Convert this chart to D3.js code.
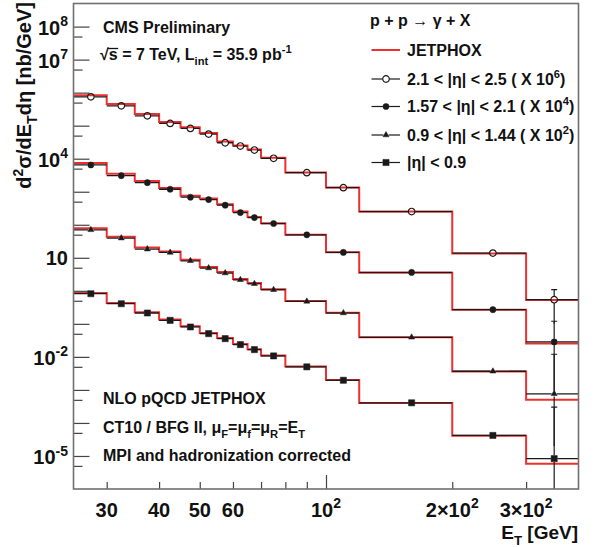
<!DOCTYPE html>
<html><head><meta charset="utf-8">
<script src="https://cdn.jsdelivr.net/npm/d3@7"></script>
<style>
body{margin:0;background:#fff}
svg{display:block;font-family:"Liberation Sans",Arial,Helvetica,sans-serif;font-weight:bold}
</style>
</head><body>
<svg id="c" width="596" height="547"></svg>
<script>
// ---------------- data ----------------
const binEdges   = [25,30,35,40,45,50,55,60,65,70,80,100,120,200,300,400];
const binCenters = [27.5,32.5,37.5,42.5,47.5,52.5,57.5,62.5,67.5,75,90,110,160,250,350];

// 2.1<|eta|<2.5 (x1e6)
const data1   = [7.46e5,3.99e5,1.99e5,1.17e5,8.28e4,5.57e4,3.04e4,2.42e4,1.83e4,1.03e4,3.78e3,1.33e3,251,13.9,0.538];
const theory1 = [8.4e5,4.5e5,2.25e5,1.3e5,9.0e4,6.0e4,3.3e4,2.5e4,1.9e4,1.06e4,3.85e3,1.34e3,250,13.6,0.53];
// 1.57<|eta|<2.1 (x1e4)
const data2   = [6.46e3,3.06e3,1.88e3,1.19e3,682,577,391,234,165,109,49.5,14.5,3.6,0.269,0.0284];
const theory2 = [7.4e3,3.5e3,2.1e3,1.3e3,750,625,420,250,172,112,50,14.7,3.55,0.265,0.0255];
// 0.9<|eta|<1.44 (x1e2)
const data3   = [70.2,39.4,18.3,14.5,8.11,4.89,3.45,2.16,1.64,1.08,0.479,0.213,0.0391,3.67e-3,7.62e-4];
const theory3 = [78,43,20.5,15.5,8.8,5.3,3.7,2.3,1.72,1.12,0.49,0.215,0.039,3.6e-3,5.0e-4];
// |eta|<0.9
const data4   = [0.817,0.407,0.213,0.128,0.0805,0.0506,0.0357,0.0236,0.0166,0.0107,4.99e-3,1.96e-3,4.07e-4,4.19e-5,8.28e-6];
const theory4 = [0.86,0.43,0.225,0.135,0.084,0.053,0.037,0.0245,0.017,0.011,5.1e-3,1.98e-3,4.05e-4,4.1e-5,5.8e-6];

// relative stat errors for bins 1..14, and absolute bounds for the last bin
const errRel  = [0.15,0.08,0.07,0.06,0.06,0.06,0.06,0.06,0.06,0.06,0.07,0.08,0.1,0.15];
const lastLo  = [0.1, 1.0e-3, 2e-5, 1e-8];
const lastHi  = [1.08, 0.12, 0.012, 3e-4];

const seriesLabels = ["2.1 < |η| < 2.5 ( X 10","1.57 < |η| < 2.1 ( X 10","0.9 < |η| < 1.44 ( X 10","|η| < 0.9"];
const seriesExps   = ["6","4","2",null];
const markerTypes  = ["openCircle","circle","triangle","square"];

const yMajorTicks = [1e-5,1e-4,1e-3,1e-2,1e-1,1,10,1e2,1e3,1e4,1e5,1e6,1e7,1e8];
const yMinorTicks = [5e-6,5e-5,5e-4,5e-3,5e-2,0.5,5,50,500,5e3,5e4,5e5,5e6,5e7];
const yLabelVals  = [1e8,1e7,1e4,10,1e-2,1e-5];
const yLabelExps  = ["8","7","4",null,"-2","-5"];
const xMinorTicks = [30,40,50,60,70,80,90,200,300];
const xMajorTicks = [100];
const xLabelVals  = [30,40,50,60,100,200,300];
const xLabelTexts = [["30",null],["40",null],["50",null],["60",null],["10","2"],["2×10","2"],["3×10","2"]];

// ---------------- layout ----------------
const L=73.5, R=578.5, T=3.5, B=489;
const svg = d3.select("#c");
const x = d3.scaleLog().domain([25,400]).range([L,R]);
const y = d3.scaleLog().domain([1e-6,5e8]).range([B,T]);
const RED="#ee2f2f", BLK="#1a1a1a";

svg.append("defs").append("clipPath").attr("id","clip")
  .append("rect").attr("x",L).attr("y",T).attr("width",R-L).attr("height",B-T);

// rich text helper
function rich(sel, parts, base){
  let shift=0;
  parts.forEach(([t,k])=>{
    if(t===null) return;
    const target = k==="sup" ? -base*0.42 : k==="sub" ? base*0.32 : 0;
    sel.append("tspan").attr("dy", target-shift)
      .attr("font-size", k==="n"?base:base*0.7).text(t);
    shift=target;
  });
  return sel;
}

// ---------------- axes ----------------
const gAx = svg.append("g");
gAx.append("g").attr("transform",`translate(${L},0)`)
  .call(d3.axisRight(y).tickValues(yMajorTicks).tickSize(16).tickFormat(""))
  .call(g=>{g.select(".domain").remove(); g.selectAll("line").attr("stroke","#444").attr("stroke-width",1.2);});
gAx.append("g").attr("transform",`translate(${L},0)`)
  .call(d3.axisRight(y).tickValues(yMinorTicks).tickSize(9).tickFormat(""))
  .call(g=>{g.select(".domain").remove(); g.selectAll("line").attr("stroke","#444").attr("stroke-width",1.2);});
gAx.append("g").attr("transform",`translate(0,${B})`)
  .call(d3.axisTop(x).tickValues(xMinorTicks).tickSize(7).tickFormat(""))
  .call(g=>{g.select(".domain").remove(); g.selectAll("line").attr("stroke","#444").attr("stroke-width",1.2);});
gAx.append("g").attr("transform",`translate(0,${B})`)
  .call(d3.axisTop(x).tickValues(xMajorTicks).tickSize(14).tickFormat(""))
  .call(g=>{g.select(".domain").remove(); g.selectAll("line").attr("stroke","#444").attr("stroke-width",1.2);});

// y labels
yLabelVals.forEach((v,i)=>{
  const t = svg.append("text").attr("x",68).attr("y",y(v)+(yLabelExps[i]?8:7))
    .attr("text-anchor","end").attr("fill","#111");
  rich(t,[["10","n"],[yLabelExps[i],"sup"]],20);
});
// x labels
xLabelVals.forEach((v,i)=>{
  const t = svg.append("text").attr("x",x(v)).attr("y",516.5)
    .attr("text-anchor","middle").attr("fill","#111");
  rich(t,[[xLabelTexts[i][0],"n"],[xLabelTexts[i][1],"sup"]],20);
});
// axis titles
rich(svg.append("text").attr("x",578).attr("y",538.5).attr("text-anchor","end").attr("fill","#111"),
  [["E","n"],["T","sub"],[" [GeV]","n"]],19);
rich(svg.append("text").attr("transform","translate(31,2) rotate(-90)").attr("text-anchor","end").attr("fill","#111"),
  [["d","n"],["2","sup"],["σ/dE","n"],["T","sub"],["dη [nb/GeV]","n"]],20);

// ---------------- plot ----------------
const plot = svg.append("g").attr("clip-path","url(#clip)");
const allData=[data1,data2,data3,data4], allTheory=[theory1,theory2,theory3,theory4];
const stepLine = d3.line().x(d=>x(d[0])).y(d=>y(d[1])).curve(d3.curveStepAfter);

function markerPath(type){
  if(type==="square") return d3.symbol(d3.symbolSquare,38)();
  if(type==="triangle") return d3.symbol(d3.symbolTriangle,16)();
  if(type==="circle") return d3.symbol(d3.symbolCircle,30)();
  return d3.symbol(d3.symbolCircle,34)();
}
const markerR = {openCircle:3.4,circle:3.1,triangle:2.6,square:3.2};

allTheory.forEach(th=>{
  const pts = th.map((v,i)=>[binEdges[i],v]);
  pts.push([binEdges[binEdges.length-1], th[th.length-1]]);
  plot.append("path").attr("d",stepLine(pts)).attr("fill","none")
    .attr("stroke",RED).attr("stroke-width",2);
});

allData.forEach((ds,si)=>{
  const g = plot.append("g");
  const type = markerTypes[si], r = markerR[type];
  ds.forEach((v,i)=>{
    const cx=x(binCenters[i]), cy=y(v);
    g.append("line").attr("x1",x(binEdges[i])).attr("x2",cx-r).attr("y1",cy).attr("y2",cy)
      .attr("stroke",BLK).attr("stroke-width",1.3);
    g.append("line").attr("x1",cx+r).attr("x2",x(binEdges[i+1])).attr("y1",cy).attr("y2",cy)
      .attr("stroke",BLK).attr("stroke-width",1.3);
    let lo, hi;
    if(i<errRel.length){ lo=v*(1-errRel[i]); hi=v*(1+errRel[i]); }
    else { lo=lastLo[si]; hi=lastHi[si]; }
    if(y(hi)<cy-r) g.append("line").attr("x1",cx).attr("x2",cx).attr("y1",y(hi)).attr("y2",cy-r)
      .attr("stroke",BLK).attr("stroke-width",1.2);
    if(y(lo)>cy+r) g.append("line").attr("x1",cx).attr("x2",cx).attr("y1",cy+r).attr("y2",y(lo))
      .attr("stroke",BLK).attr("stroke-width",1.2);
    if(i===ds.length-1){
      g.append("line").attr("x1",cx-3).attr("x2",cx+3).attr("y1",y(hi)).attr("y2",y(hi))
        .attr("stroke",BLK).attr("stroke-width",1.2);
    }
    g.append("path").attr("d",markerPath(type)).attr("transform",`translate(${cx},${cy})`)
      .attr("fill",type==="openCircle"?"none":BLK)
      .attr("stroke",BLK).attr("stroke-width",type==="openCircle"?1.2:0.5);
  });
});

// frame
svg.append("rect").attr("x",L).attr("y",T).attr("width",R-L).attr("height",B-T)
  .attr("fill","none").attr("stroke","#707070").attr("stroke-width",1.6);

// ---------------- texts ----------------
svg.append("text").attr("x",103).attr("y",32.5).attr("font-size",16).attr("fill","#111").text("CMS Preliminary");
const lumi = svg.append("text").attr("x",100).attr("y",60).attr("fill","#111");
rich(lumi,[["√s = 7 TeV, L","n"],["int","sub"],[" = 35.9 pb","n"],["-1","sup"]],16);
{
  const n = lumi.node();
  const e0 = n.getExtentOfChar(0), e1 = n.getExtentOfChar(1);
  svg.append("line").attr("x1",e0.x+e0.width-1).attr("x2",e1.x+e1.width+0.5)
    .attr("y1",48.5).attr("y2",48.5).attr("stroke","#111").attr("stroke-width",1.3);
}
svg.append("text").attr("x",370).attr("y",26).attr("font-size",16).attr("fill","#111").text("p + p → γ + X");

// legend
const legY = [50,79,106.5,135,162.5];
const lg = svg.append("g");
lg.append("line").attr("x1",371.5).attr("x2",400).attr("y1",legY[0]).attr("y2",legY[0])
  .attr("stroke",RED).attr("stroke-width",2);
lg.append("text").attr("x",407).attr("y",legY[0]+5.5).attr("font-size",16).attr("fill","#111").text("JETPHOX");
seriesLabels.forEach((lab,i)=>{
  const cy = legY[i+1], type=markerTypes[i], r=markerR[type];
  lg.append("line").attr("x1",371.5).attr("x2",386-r).attr("y1",cy).attr("y2",cy).attr("stroke",BLK).attr("stroke-width",1.2);
  lg.append("line").attr("x1",386+r).attr("x2",400).attr("y1",cy).attr("y2",cy).attr("stroke",BLK).attr("stroke-width",1.2);
  lg.append("path").attr("d",markerPath(type)).attr("transform",`translate(386,${cy})`)
    .attr("fill",type==="openCircle"?"none":BLK).attr("stroke",BLK).attr("stroke-width",type==="openCircle"?1.2:0.5);
  const t = lg.append("text").attr("x",407).attr("y",cy+5.5).attr("fill","#111");
  rich(t,[[lab,"n"],[seriesExps[i],"sup"],[seriesExps[i]?")":null,"n"]],16);
});

// bottom-left notes
svg.append("text").attr("x",103).attr("y",404).attr("font-size",16).attr("fill","#111").text("NLO pQCD JETPHOX");
rich(svg.append("text").attr("x",103).attr("y",432.5).attr("fill","#111"),
  [["CT10 / BFG II, μ","n"],["F","sub"],["=μ","n"],["f","sub"],["=μ","n"],["R","sub"],["=E","n"],["T","sub"]],16);
svg.append("text").attr("x",103).attr("y",461).attr("font-size",16).attr("fill","#111").text("MPI and hadronization corrected");
</script>
</body></html>
